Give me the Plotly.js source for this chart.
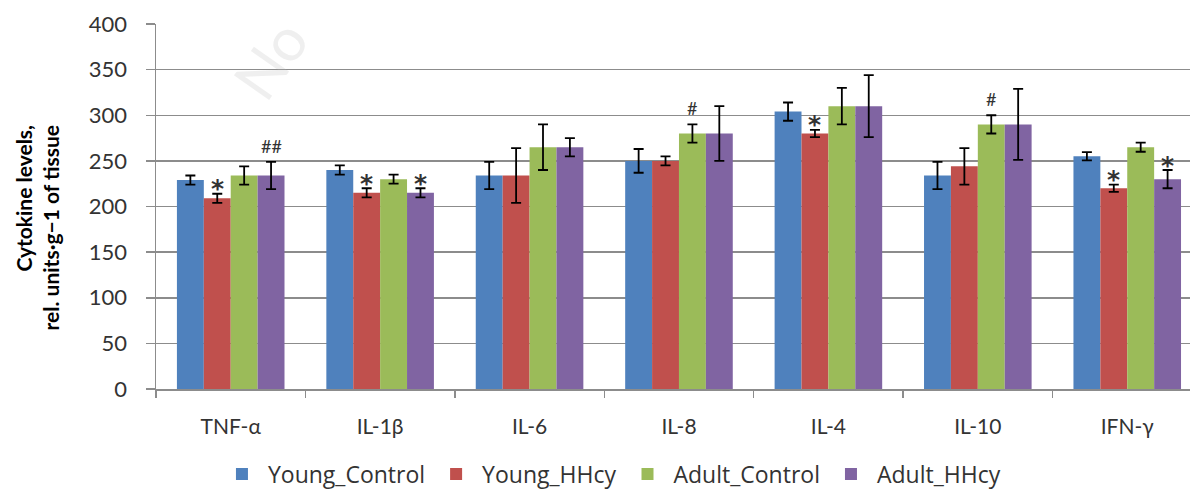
<!DOCTYPE html>
<html>
<head>
<meta charset="utf-8">
<script src="https://cdn.plot.ly/plotly-3.0.1.min.js"></script>
<style>html,body{margin:0;padding:0;background:#fff;}#chart{width:1190px;height:494px;}</style>
</head>
<body>
<div id="chart"></div>
<script>
const categories = ['TNF-α', 'IL-1β', 'IL-6', 'IL-8', 'IL-4', 'IL-10', 'IFN-γ'];
const seriesNames = ['Young_Control', 'Young_HHcy', 'Adult_Control', 'Adult_HHcy'];
const youngControl = [229, 240, 234, 250, 304, 234, 255];
const youngControlErr = [5, 5, 15, 13, 10, 15, 4.5];
const youngHHcy = [209, 215, 234, 250, 280, 244, 220];
const youngHHcyErr = [5, 5, 30, 5, 4, 20, 4];
const adultControl = [234, 230, 265, 280, 310, 290, 265];
const adultControlErr = [10, 5, 25, 10, 20, 10, 5];
const adultHHcy = [234, 215, 265, 280, 310, 290, 230];
const adultHHcyErr = [15, 5, 10, 30, 34, 39, 10];
// significance marks: [category index, series index, label]
const sigMarks = [
  [0, 1, '*'], [0, 3, '##'],
  [1, 1, '*'], [1, 3, '*'],
  [3, 2, '#'],
  [4, 1, '*'],
  [5, 2, '#'],
  [6, 1, '*'], [6, 3, '*']
];

const colors = ['#4F81BD', '#C0504D', '#9BBB59', '#8064A2'];
const values = [youngControl, youngHHcy, adultControl, adultHHcy];
const errors = [youngControlErr, youngHHcyErr, adultControlErr, adultHHcyErr];
const FONT = 'Lato, "Open Sans", sans-serif';
const LEGFONT = '"Open Sans", Lato, sans-serif';
const BARGAP = 0.28;
const barW = (1 - BARGAP) / 4;

const traces = values.map((v, i) => ({
  type: 'bar',
  name: seriesNames[i],
  x: categories,
  y: v,
  marker: {color: colors[i], line: {width: 0}},
  error_y: {type: 'data', array: errors[i], visible: true, color: '#000', thickness: 1.8, width: 5}
}));

const annotations = sigMarks.map(m => {
  const [c, s, t] = m;
  const star = (t === '*');
  return {
    x: c + (s - 1.5) * barW,
    y: values[s][c] + errors[s][c],
    xref: 'x', yref: 'y',
    text: star ? '<b>*</b>' : t, showarrow: false,
    yanchor: 'middle', yshift: star ? 5 : 16,
    font: {family: star ? '"DejaVu Sans", sans-serif' : FONT, size: star ? 25 : 18, color: '#333'}
  };
});

annotations.push({
  xref: 'paper', yref: 'paper', x: 0, xshift: -119, y: 0.4425,
  xanchor: 'center', yanchor: 'middle', textangle: -90, align: 'right',
  text: '<b>Cytokine levels,<br>rel. units·g−1 of tissue</b>',
  showarrow: false, font: {family: FONT, size: 21, color: '#000'}
});

annotations.push({
  xref: 'paper', yref: 'paper', x: 0.11, y: 0.905, xanchor: 'center', yanchor: 'middle',
  text: 'No', textangle: -55, showarrow: false,
  font: {family: FONT, size: 60, color: 'rgba(180,180,180,0.22)'}
});

const layout = {
  width: 1190, height: 494,
  margin: {l: 156, r: 0, t: 24, b: 105, autoexpand: false},
  paper_bgcolor: '#fff', plot_bgcolor: '#fff',
  barmode: 'group', bargap: BARGAP, bargroupgap: 0,
  font: {family: FONT, size: 20, color: '#333'},
  xaxis: {
    type: 'category', range: [-0.5, 6.42],
    showline: true, linecolor: '#8c8c8c', linewidth: 1.5,
    ticks: 'outside', tickson: 'boundaries', ticklen: 7, tickcolor: '#8c8c8c', tickwidth: 1.5,
    showgrid: false, ticklabelstandoff: 18,
    tickfont: {family: FONT, size: 21, color: '#333'}
  },
  yaxis: {
    range: [0, 400], tickvals: [0, 50, 100, 150, 200, 250, 300, 350, 400],
    showgrid: true, gridcolor: '#8c8c8c', gridwidth: 1.5,
    showline: true, linecolor: '#8c8c8c', linewidth: 1.5,
    ticks: 'outside', ticklen: 9, tickcolor: '#8c8c8c', tickwidth: 1.5,
    zeroline: false, ticklabelstandoff: 14,
    tickfont: {family: FONT, size: 22, color: '#333'}
  },
  legend: {
    orientation: 'h', x: 0.44, xanchor: 'center', y: -0.233, yanchor: 'middle',
    font: {family: LEGFONT, size: 23, color: '#333'}, itemwidth: 42
  },
  annotations: annotations,
  showlegend: true
};

Plotly.newPlot('chart', traces, layout, {displayModeBar: false, staticPlot: true});
</script>
</body>
</html>
